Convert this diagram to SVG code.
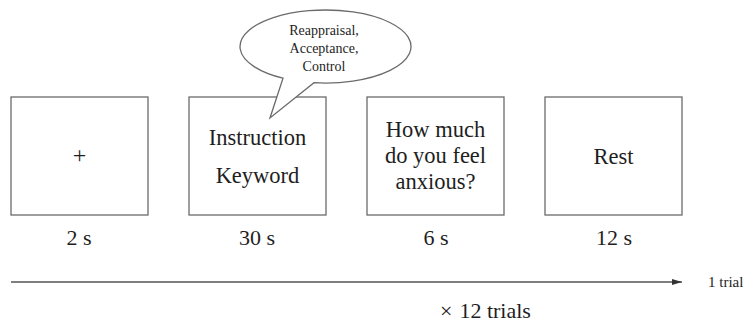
<svg xmlns="http://www.w3.org/2000/svg" width="749" height="322" viewBox="0 0 749 322">
  <defs>
    <style>
      .box { fill: #ffffff; stroke: #6b6b6b; stroke-width: 1.3; }
      .line { stroke: #555555; stroke-width: 1.3; fill: none; }
    </style>
    <marker id="arrow" markerWidth="10" markerHeight="6" refX="10" refY="3" orient="auto" markerUnits="userSpaceOnUse">
      <path d="M0,0 L10,3 L0,6 Z" fill="#333333"/>
    </marker>
  </defs>
  <rect width="749" height="322" fill="#ffffff"/>

  <g font-family="Liberation Serif, Times New Roman, serif" fill="#1e1e1e">
  <g id="fixation">
    <rect class="box" x="11" y="97" width="137" height="118"/>
    <text text-anchor="middle" x="79.5" y="163" font-size="24">+</text>
    <text text-anchor="middle" font-size="22" x="79" y="245">2 s</text>
  </g>

  <g id="instruction">
    <rect class="box" x="189" y="97" width="137" height="118"/>
    <text text-anchor="middle" font-size="22.5" x="257.5" y="145">Instruction</text>
    <text text-anchor="middle" font-size="22.5" x="257.5" y="183">Keyword</text>
    <text text-anchor="middle" font-size="22" x="257" y="245">30 s</text>
  </g>

  <g id="bubble">
    <path class="box" d="M314,82.7 A85.5,36.5 0 1 0 283,78.2 L270,118 Z"/>
    <text text-anchor="middle" font-size="14" x="324" y="35">Reappraisal,</text>
    <text text-anchor="middle" font-size="14" x="324" y="53">Acceptance,</text>
    <text text-anchor="middle" font-size="14" x="324" y="71">Control</text>
  </g>

  <g id="rating">
    <rect class="box" x="367" y="97" width="137" height="118"/>
    <text text-anchor="middle" font-size="22.5" x="435.5" y="137">How much</text>
    <text text-anchor="middle" font-size="22.5" x="435.5" y="163">do you feel</text>
    <text text-anchor="middle" font-size="22.5" x="435.5" y="189">anxious?</text>
    <text text-anchor="middle" font-size="22" x="436" y="245">6 s</text>
  </g>

  <g id="rest">
    <rect class="box" x="545" y="97" width="137" height="118"/>
    <text text-anchor="middle" font-size="22.5" x="613.5" y="164">Rest</text>
    <text text-anchor="middle" font-size="22" x="614" y="245">12 s</text>
  </g>

  <g id="connectors">
    <line class="line" x1="11" y1="282" x2="682" y2="282" marker-end="url(#arrow)"/>
  </g>

  <g id="labels">
    <text x="708" y="287" font-size="15">1 trial</text>
    <text font-size="22" x="440" y="318">×<tspan dx="7">12 trials</tspan></text>
  </g>
  </g>
</svg>
